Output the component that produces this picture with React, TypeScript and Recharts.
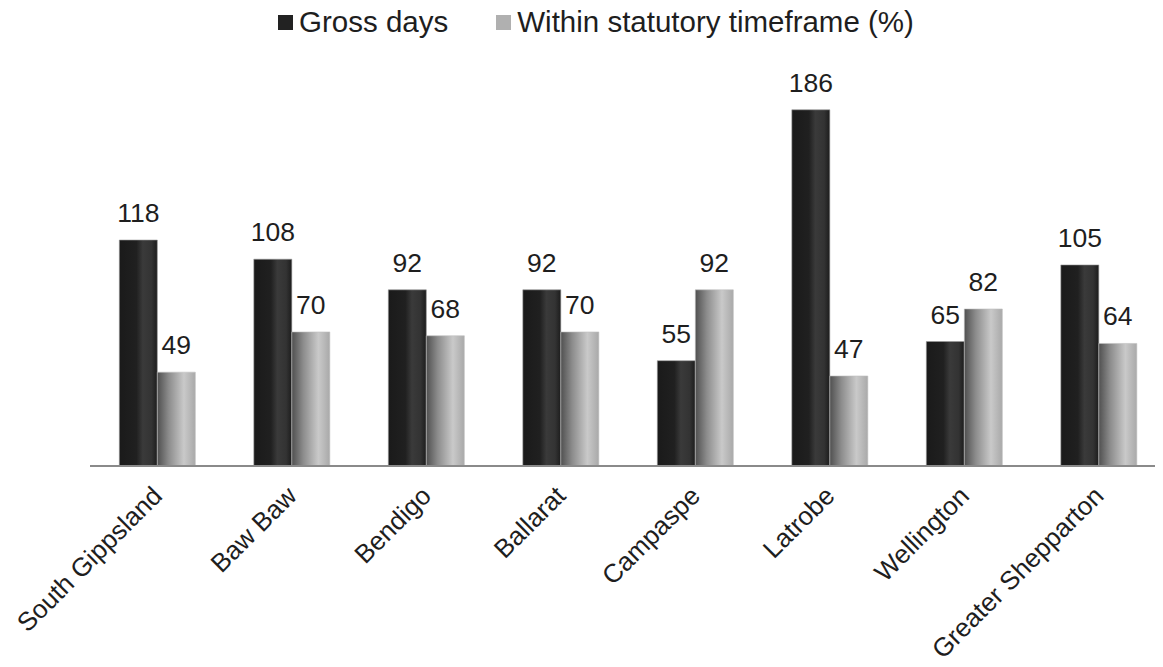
import React from "react";
import { BarChart, Bar, XAxis, YAxis, Legend, LabelList } from "recharts";

const councils = [
  "South Gippsland",
  "Baw Baw",
  "Bendigo",
  "Ballarat",
  "Campaspe",
  "Latrobe",
  "Wellington",
  "Greater Shepparton",
];
const grossDays = [118, 108, 92, 92, 55, 186, 65, 105];
const withinTimeframe = [49, 70, 68, 70, 92, 47, 82, 64];

const data = councils.map((name, i) => ({
  name,
  gross: grossDays[i],
  within: withinTimeframe[i],
}));

const FONT = "'Liberation Sans', Arial, sans-serif";

const RotatedTick = (props: any) => {
  const { x, y, payload } = props;
  const ty = y + 17;
  return (
    <text
      x={x}
      y={ty}
      transform={`rotate(-45, ${x}, ${ty})`}
      textAnchor="end"
      dy="0.35em"
      fontSize={26}
      fontFamily={FONT}
      fill="#1e1e1e"
    >
      {payload.value}
    </text>
  );
};

const LegendContent = () => (
  <div
    style={{
      display: "flex",
      justifyContent: "center",
      alignItems: "center",
      fontFamily: FONT,
      fontSize: 29.5,
      lineHeight: "34px",
      color: "#1e1e1e",
      paddingLeft: 22,
    }}
  >
    <span style={{ display: "inline-block", width: 15, height: 15, background: "#222", marginRight: 6 }} />
    <span style={{ marginRight: 48 }}>Gross days</span>
    <span style={{ display: "inline-block", width: 15, height: 15, background: "#b0b0b0", marginRight: 6 }} />
    <span>Within statutory timeframe (%)</span>
  </div>
);

export default function App() {
  return (
    <div style={{ width: 1163, height: 667, overflow: "hidden", margin: "-8px 0 0 -8px", background: "#fff" }}>
      <BarChart
        width={1170}
        height={667}
        data={data}
        margin={{ top: 49, right: 4, bottom: 0, left: 90 }}
        barCategoryGap="21.8%"
        barGap={0}
      >
        <defs>
          <linearGradient id="darkBar" x1="0" y1="0" x2="1" y2="0">
            <stop offset="0%" stopColor="#1a1a1a" />
            <stop offset="45%" stopColor="#202020" />
            <stop offset="62%" stopColor="#3a3a3a" />
            <stop offset="85%" stopColor="#333333" />
            <stop offset="100%" stopColor="#1c1c1c" />
          </linearGradient>
          <linearGradient id="lightBar" x1="0" y1="0" x2="1" y2="0">
            <stop offset="0%" stopColor="#505050" />
            <stop offset="30%" stopColor="#8c8c8c" />
            <stop offset="70%" stopColor="#c9c9c9" />
            <stop offset="100%" stopColor="#a9a9a9" />
          </linearGradient>
        </defs>
        <Legend
          verticalAlign="top"
          align="center"
          content={<LegendContent />}
          wrapperStyle={{ top: 5, left: 0, width: 1170 }}
        />
        <XAxis
          dataKey="name"
          interval={0}
          tickLine={false}
          axisLine={{ stroke: "#8a8a8a", strokeWidth: 2 }}
          tick={<RotatedTick />}
          height={201}
        />
        <YAxis hide domain={[0, 200]} />
        <Bar dataKey="gross" name="Gross days" fill="url(#darkBar)" stroke="#9a9a9a" strokeWidth={0.6} isAnimationActive={false}>
          <LabelList dataKey="gross" position="top" offset={18} fontSize={26.5} fontFamily={FONT} fill="#1e1e1e" />
        </Bar>
        <Bar dataKey="within" name="Within statutory timeframe (%)" fill="url(#lightBar)" stroke="#c0c0c0" strokeWidth={0.6} isAnimationActive={false}>
          <LabelList dataKey="within" position="top" offset={18} fontSize={26.5} fontFamily={FONT} fill="#1e1e1e" />
        </Bar>
      </BarChart>
    </div>
  );
}
